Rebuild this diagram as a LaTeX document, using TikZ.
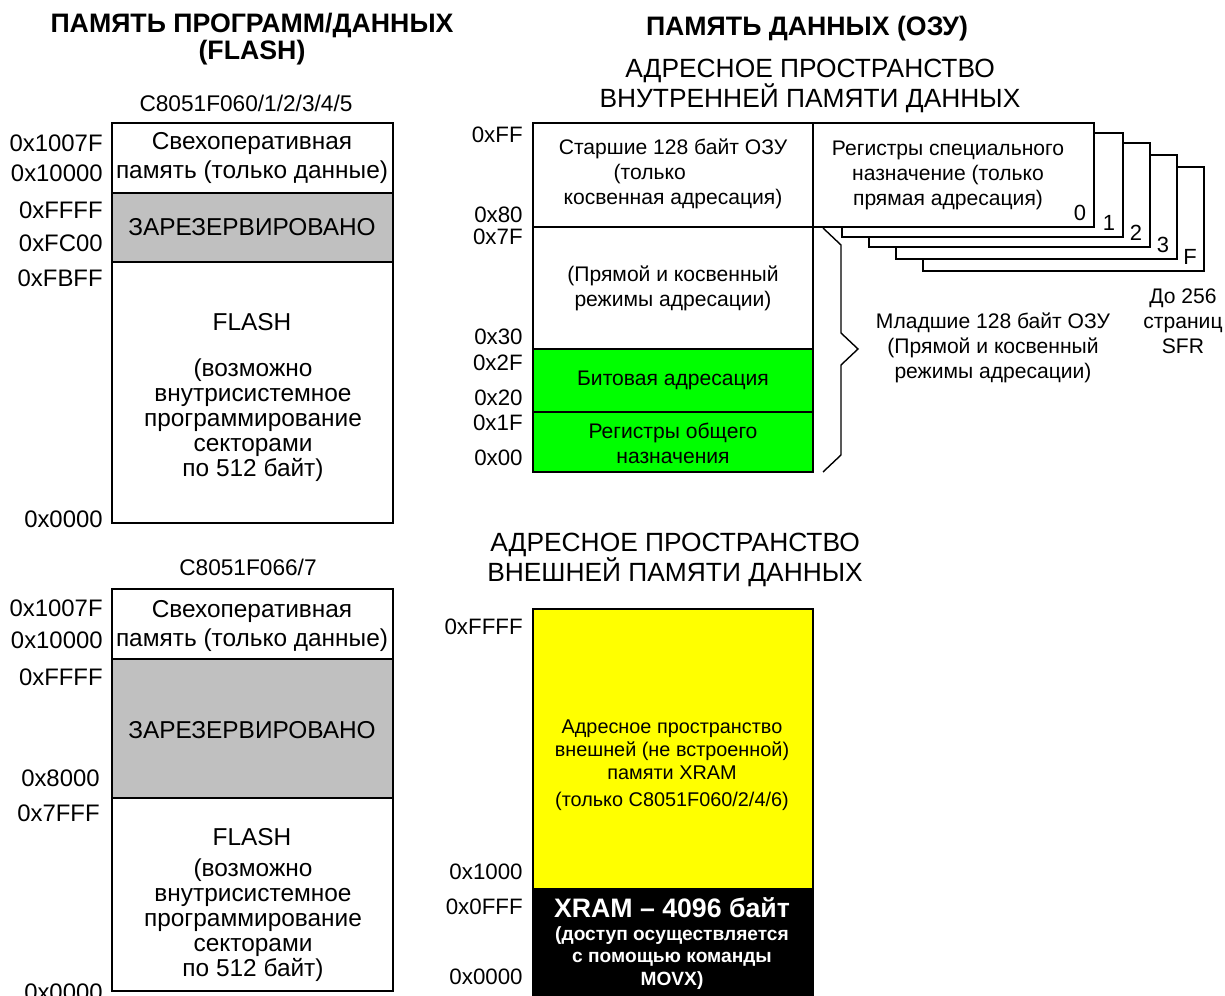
\documentclass[tikz,border=0pt]{standalone}
\usepackage{fontspec}
\setmainfont{Liberation Sans}
\usepackage{tikz}
\usetikzlibrary{positioning}
\usepackage{xcolor}
\definecolor{memgray}{RGB}{192,192,192}
\definecolor{memgreen}{RGB}{0,255,0}
\definecolor{memyellow}{RGB}{255,255,0}
\tikzstyle{region} = [draw=black, line width=1.1pt]
\tikzstyle{bracket} = [draw=black, line width=0.8pt]
\tikzstyle{addrl} = [anchor=east, inner sep=0pt, font=\fontsize{13.6}{16}\selectfont]
\tikzstyle{addrr} = [anchor=east, inner sep=0pt, font=\fontsize{12.7}{15}\selectfont]
\tikzstyle{bigtitle} = [align=center, inner sep=0pt, font=\bfseries\fontsize{15.2}{15.4}\selectfont]
\tikzstyle{subtitle} = [align=center, inner sep=0pt, font=\fontsize{15}{17}\selectfont]
\tikzstyle{chiptext} = [inner sep=0pt, font=\fontsize{12.9}{15}\selectfont]
\tikzstyle{flashtext} = [align=center, inner sep=0pt, font=\fontsize{13.9}{16.5}\selectfont]
\tikzstyle{paratext} = [align=center, inner sep=0pt, font=\fontsize{13.9}{14.2}\selectfont]
\tikzstyle{ramtext} = [align=center, inner sep=0pt, font=\fontsize{12}{14.2}\selectfont]
\tikzstyle{xtext} = [align=center, inner sep=0pt, font=\fontsize{11.3}{13.2}\selectfont]
\tikzstyle{pagenum} = [inner sep=0pt, font=\fontsize{12.5}{14}\selectfont]

\begin{document}
\begin{tikzpicture}[x=0.02cm, y=-0.02cm]
\useasboundingbox (0,0) rectangle (1225,996);

\node[bigtitle] (progtitle) at (252,39) {ПАМЯТЬ ПРОГРАММ/ДАННЫХ\\(FLASH)};
\node[chiptext] (chipA) at (246,103) {C8051F060/1/2/3/4/5};
\draw[region] (112,123) rectangle (393,193);
\draw[region, fill=memgray] (112,193) rectangle (393,262);
\draw[region] (112,262) rectangle (393,523);
\node[flashtext] (scratchA) at (252,158) {Свехоперативная\\память (только данные)};
\node[flashtext] (resA) at (252,227) {ЗАРЕЗЕРВИРОВАНО};
\node[flashtext] (flashA) at (252,322) {FLASH};
\node[paratext] (noteA) at (253,420) {(возможно\\внутрисистемное\\программирование\\секторами\\по 512 байт)};
\node[addrl] (a1) at (103,143) {0x1007F};
\node[addrl] (a2) at (103,173) {0x10000};
\node[addrl] (a3) at (103,210) {0xFFFF};
\node[addrl] (a4) at (103,243) {0xFC00};
\node[addrl] (a5) at (103,278) {0xFBFF};
\node[addrl] (a6) at (103,519) {0x0000};

\node[chiptext] (chipB) at (248,567) {C8051F066/7};
\draw[region] (112,589) rectangle (393,659);
\draw[region, fill=memgray] (112,659) rectangle (393,798);
\draw[region] (112,798) rectangle (393,991);
\node[flashtext] (scratchB) at (252,626) {Свехоперативная\\память (только данные)};
\node[flashtext] (resB) at (252,730) {ЗАРЕЗЕРВИРОВАНО};
\node[flashtext] (flashB) at (252,837) {FLASH};
\node[paratext] (noteB) at (253,920) {(возможно\\внутрисистемное\\программирование\\секторами\\по 512 байт)};
\node[addrl] (b1) at (103,608) {0x1007F};
\node[addrl] (b2) at (103,640) {0x10000};
\node[addrl] (b3) at (103,677) {0xFFFF};
\node[addrl] (b4) at (100,778) {0x8000};
\node[addrl] (b5) at (100,813) {0x7FFF};
\node[addrl] (b6) at (103,992) {0x0000};

\node[bigtitle] (datatitle) at (807,29) {ПАМЯТЬ ДАННЫХ (ОЗУ)};
\node[subtitle] (intitle) at (810,86) {АДРЕСНОЕ ПРОСТРАНСТВО\\ВНУТРЕННЕЙ ПАМЯТИ ДАННЫХ};
\foreach \dx/\dy/\lbl in {110/44/F, 83/32/3, 56/20/2, 29/10/1, 0/0/0} {
  \draw[region, fill=white] (813+\dx,123+\dy) rectangle ++(281,104);
  \node[pagenum] (page\lbl) at (1080+\dx,213+\dy) {\lbl};
}
\draw[region] (533,123) rectangle (813,227);
\draw[region] (533,227) rectangle (813,349);
\draw[region, fill=memgreen] (533,349) rectangle (813,412);
\draw[region, fill=memgreen] (533,412) rectangle (813,472);
\node[ramtext] (upper) at (673,174) {Старшие 128 байт ОЗУ\\(только\hspace*{2.2em}\mbox{}\\косвенная адресация)};
\node[ramtext] (lower) at (673,288) {(Прямой и косвенный\\режимы адресации)};
\node[ramtext] (bitaddr) at (673,380) {Битовая адресация};
\node[ramtext] (gpr) at (673,443) {Регистры общего\\назначения};
\node[ramtext] (sfrtext) at (948,175) {Регистры специального\\назначение (только\\прямая адресация)};
\node[addrr] (r1) at (523,135) {0xFF};
\node[addrr] (r2) at (523,215) {0x80};
\node[addrr] (r3) at (523,237) {0x7F};
\node[addrr] (r4) at (523,337) {0x30};
\node[addrr] (r5) at (523,363) {0x2F};
\node[addrr] (r6) at (523,398) {0x20};
\node[addrr] (r7) at (523,423) {0x1F};
\node[addrr] (r8) at (523,458) {0x00};
\draw[bracket] (823,228) -- (841,245) -- (841,333) -- (858,349) -- (841,365) -- (841,455) -- (823,472);
\node[ramtext] (lowtext) at (993,348) {Младшие 128 байт ОЗУ\\(Прямой и косвенный\\режимы адресации)};
\node[ramtext] (pagestext) at (1183,321) {До 256\\страниц\\SFR};

\node[subtitle] (extitle) at (675,560) {АДРЕСНОЕ ПРОСТРАНСТВО\\ВНЕШНЕЙ ПАМЯТИ ДАННЫХ};
\draw[region, fill=memyellow] (533,609) rectangle (813,889);
\draw[region, fill=black] (533,889) rectangle (813,995);
\node[xtext] (xspace) at (672,765) {Адресное пространство\\внешней (не встроенной)\\памяти XRAM\\[2pt](только C8051F060/2/4/6)};
\node[bigtitle, text=white] (xramhead) at (672,908) {XRAM – 4096 байт};
\node[xtext, text=white, font=\bfseries\fontsize{10.9}{12.8}\selectfont] (xramnote) at (672,958) {(доступ осуществляется\\с помощью команды\\MOVX)};
\node[addrr] (e1) at (523,627) {0xFFFF};
\node[addrr] (e2) at (523,872) {0x1000};
\node[addrr] (e3) at (523,907) {0x0FFF};
\node[addrr] (e4) at (523,977) {0x0000};
\end{tikzpicture}
\end{document}
